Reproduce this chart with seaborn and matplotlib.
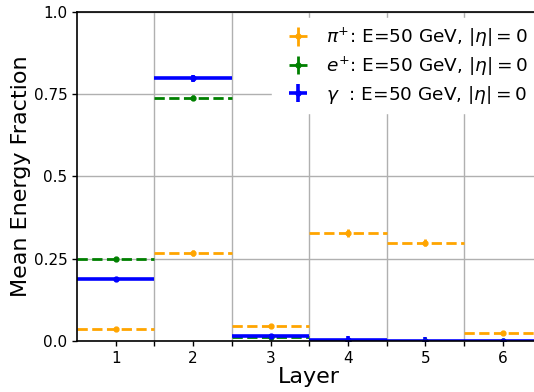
import numpy as np
import matplotlib
matplotlib.use("Agg")
import matplotlib.pyplot as plt
import seaborn as sns

# ------------------------------------------------------------------
# Data
# ------------------------------------------------------------------
layers = [1, 2, 3, 4, 5, 6]
pi_frac = [0.037, 0.268, 0.046, 0.327, 0.299, 0.025]
pi_err = [0.003, 0.010, 0.004, 0.012, 0.010, 0.003]
e_frac = [0.248, 0.739, 0.011, 0.001, 0.0005, 0.0002]
e_err = [0.003, 0.008, 0.002, 0.001, 0.0005, 0.0002]
g_frac = [0.188, 0.798, 0.014, 0.002, 0.001, 0.0005]
g_err = [0.003, 0.012, 0.003, 0.012, 0.010, 0.004]

labels = [r"$\pi^{+}$: E=50 GeV, $|\eta|=0$",
          r"$e^{+}$: E=50 GeV, $|\eta|=0$",
          r"$\gamma$  : E=50 GeV, $|\eta|=0$"]
colors = ["orange", "green", "blue"]

sns.set_style("ticks")
plt.rcParams["font.family"] = ["DejaVu Sans"]
for key in ["text.color", "axes.labelcolor", "xtick.color", "ytick.color", "axes.edgecolor"]:
    plt.rcParams[key] = "black"

fig = plt.figure(figsize=(5.34, 3.92), dpi=100)
ax = fig.add_axes([0.1442, 0.1301, 0.8699, 0.8393])

series = [(pi_frac, pi_err, "--", 2.0), (e_frac, e_err, "--", 2.0), (g_frac, g_err, "-", 2.6)]
bars = []
for (vals, errs, ls, lw), lab, col in zip(series, labels, colors):
    eb = ax.errorbar(layers, vals, xerr=0.5, yerr=errs, fmt="o", markersize=3.5,
                     color=col, elinewidth=lw, capsize=0, label=lab)
    bars.append((eb, ls))

ax.set_xlim(0.5, 6.5)
ax.set_ylim(0, 1)
ax.set_xticks(layers)
ax.set_xticks(np.arange(1.5, 6, 1), minor=True)
ax.set_yticks([0, 0.25, 0.5, 0.75, 1.0])
ax.set_yticklabels(["0.0", "0.25", "0.5", "0.75", "1.0"])
ax.tick_params(axis="both", which="major", labelsize=11, length=3.5, width=1)
ax.tick_params(axis="x", which="minor", length=3.5, width=1)
ax.grid(axis="x", which="minor", color="#b0b0b0", lw=1)
ax.grid(axis="y", which="major", color="#b0b0b0", lw=1)
ax.set_axisbelow(True)
for sp in ax.spines.values():
    sp.set_linewidth(1.2)

ax.set_xlabel("Layer", fontsize=16, labelpad=1)
ax.set_ylabel("Mean Energy Fraction", fontsize=16, labelpad=2)

# legend first so its handles keep solid lines, then dash the bin-width bars
leg = ax.legend(loc="upper right", fontsize=13.3, framealpha=1, edgecolor="white",
                labelspacing=0.3, handletextpad=0.5, borderaxespad=0.35)
for eb, ls in bars:
    eb[2][0].set_linestyle(ls)

fig.savefig("out.png", dpi=100)
